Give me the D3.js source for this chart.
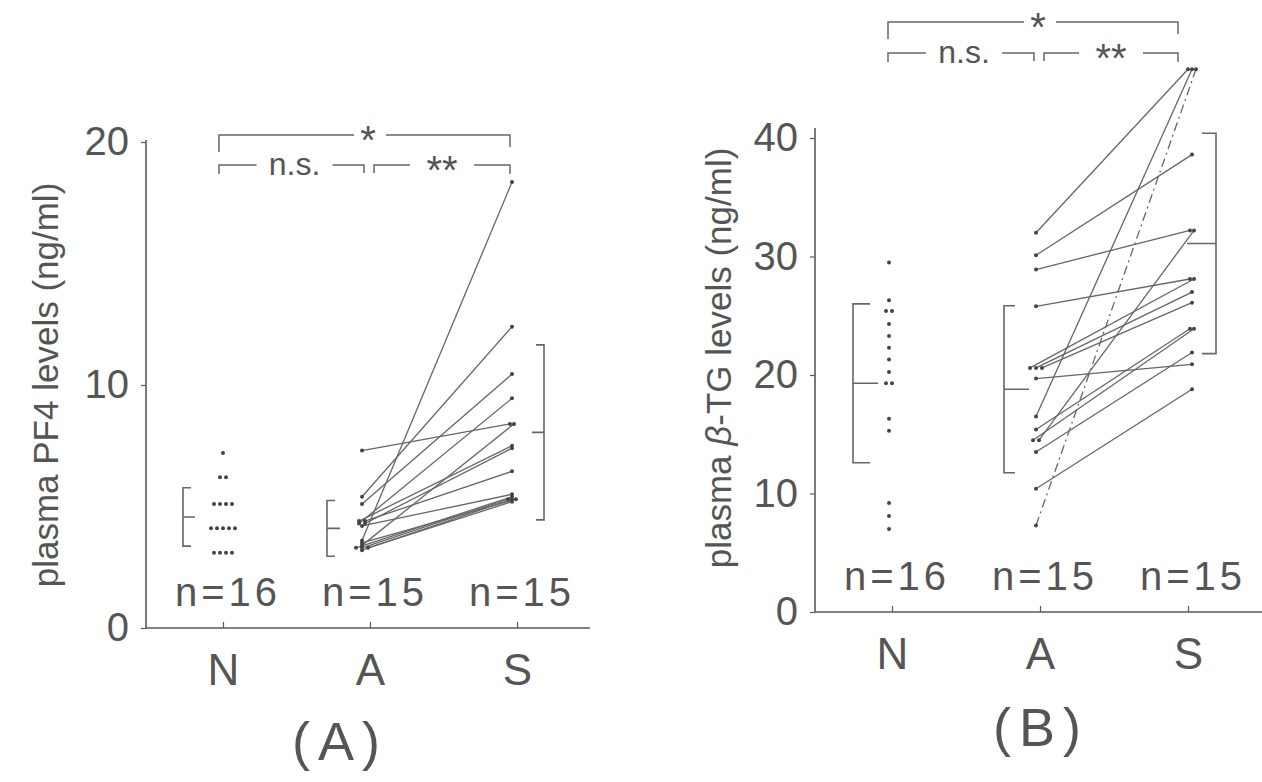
<!DOCTYPE html>
<html><head><meta charset="utf-8">
<script src="https://cdn.jsdelivr.net/npm/d3@7"></script>
<style>
html,body{margin:0;padding:0;background:#fff;}
svg{display:block;}
text{font-family:"Liberation Sans",Arial,sans-serif;fill:#555;}
</style></head>
<body>
<svg id="chart" width="1262" height="782"></svg>
<script>
// ---------- DATA ----------
const categories = ["N", "A", "S"];
const nLabels = ["n=16", "n=15", "n=15"];
const panelLabels = ["(A)", "(B)"];

// Panel A: plasma PF4 (ng/ml)
const pf4Ticks = [0, 10, 20];
const pf4N = [7.2, 6.2, 6.2, 5.1, 5.1, 5.1, 5.1, 4.1, 4.1, 4.1, 4.1, 4.1, 3.1, 3.1, 3.1, 3.1];
const pf4A = [3.6, 5.4, 5.1, 4.3, 7.3, 3.4, 4.4, 4.3, 4.4, 4.2, 3.3, 3.3, 3.2, 3.3, 3.5];
const pf4S = [18.35, 12.4, 10.45, 9.45, 8.4, 8.4, 7.5, 7.4, 6.45, 5.5, 5.4, 5.3, 5.3, 5.2, 5.3];
const pf4Mean = [4.57, 4.1, 8.05];
const pf4SD = [1.2, 1.15, 3.6];

// Panel B: plasma beta-TG (ng/ml)
const btgTicks = [0, 10, 20, 30, 40];
const btgN = [29.5, 26.3, 25.4, 25.4, 24.3, 23.3, 22.3, 21.3, 20.25, 19.3, 19.3, 16.3, 15.3, 9.2, 8.1, 7.0];
const btgA = [32.0, 30.1, 28.9, 25.8, 20.6, 20.6, 20.6, 19.7, 16.5, 15.4, 14.5, 13.5, 10.4, 7.3, 14.5];
const btgS = [45.8, 38.6, 32.2, 28.1, 28.1, 27.0, 26.1, 20.9, 45.8, 23.9, 23.9, 21.9, 18.8, 45.8, 32.2];
const btgMean = [19.3, 18.8, 31.1];
const btgSD = [6.7, 7.05, 9.3];

// significance labels: [overall N-S, N-A, A-S]
const sigLabels = ["*", "n.s.", "**"];

// ---------- DRAW ----------
const svg = d3.select("#chart");
const ink = "#5a5a5a";

function groupOffsets(vals, step) {
  const cnt = {}, idx = {};
  vals.forEach(v => cnt[v] = (cnt[v] || 0) + 1);
  return vals.map(v => { idx[v] = (idx[v] || 0); const o = (idx[v] - (cnt[v] - 1) / 2) * step; idx[v]++; return o; });
}

function drawPanel(c) {
  const g = svg.append("g");
  const x = d3.scalePoint().domain(categories).range(c.xRange);
  const y = d3.scaleLinear().domain([0, c.yMax]).range(c.yRange);

  // y axis
  const ya = g.append("g").attr("transform", `translate(${c.axisX},0)`)
    .call(d3.axisLeft(y).tickValues(c.ticks).tickSize(5).tickPadding(12).tickSizeOuter(0));
  ya.select(".domain").remove();
  ya.selectAll(".tick line").attr("stroke", ink).attr("stroke-width", 1.2);
  ya.selectAll(".tick text").attr("font-size", 40).attr("fill", "#555").attr("font-family", "Liberation Sans, Arial, sans-serif");
  g.append("line").attr("x1", c.axisX).attr("x2", c.axisX).attr("y1", c.axisTop).attr("y2", y(0))
    .attr("stroke", ink).attr("stroke-width", 1.6);

  // x axis
  const xa = g.append("g").attr("transform", `translate(0,${y(0)})`)
    .call(d3.axisBottom(x).tickSize(-6).tickPadding(26).tickSizeOuter(0));
  xa.select(".domain").remove();
  xa.selectAll(".tick line").attr("stroke", ink).attr("stroke-width", 1.2);
  xa.selectAll(".tick text").attr("font-size", 44).attr("fill", "#555").attr("dy", "0.71em")
    .attr("font-family", "Liberation Sans, Arial, sans-serif");
  g.append("line").attr("x1", c.axisX).attr("x2", c.xAxisEnd).attr("y1", y(0)).attr("y2", y(0))
    .attr("stroke", ink).attr("stroke-width", 1.6);

  // y title
  const yt = g.append("text").attr("transform", `translate(${c.titleX},${c.titleY}) rotate(-90)`)
    .attr("text-anchor", "middle").attr("font-size", 35).attr("fill", "#555");
  c.title.forEach(t => yt.append("tspan").text(t.s).attr("font-style", t.it ? "italic" : null));

  // n labels
  g.selectAll(".nl").data(nLabels).join("text").attr("class", "nl")
    .attr("x", (d, i) => x(categories[i]) + 5).attr("y", c.nY).attr("text-anchor", "middle")
    .attr("font-size", 40).attr("letter-spacing", 4).text(d => d);

  // paired lines A -> S
  const offA = groupOffsets(c.A, 6), offS = groupOffsets(c.S, 4);
  g.selectAll(".pl").data(c.A).join("line").attr("class", "pl")
    .attr("x1", (d, i) => x("A") + c.aShift + offA[i]).attr("y1", d => y(d))
    .attr("x2", (d, i) => x("S") + c.sShift + offS[i]).attr("y2", (d, i) => y(c.S[i]))
    .attr("stroke", "#666").attr("stroke-width", 1.3)
    .attr("stroke-dasharray", (d, i) => c.dashed.includes(i) ? "9,4,2,4" : null);
  g.selectAll(".pa").data(c.A).join("circle").attr("class", "pa")
    .attr("cx", (d, i) => x("A") + c.aShift + offA[i]).attr("cy", d => y(d)).attr("r", 2).attr("fill", "#444");
  g.selectAll(".ps").data(c.S).join("circle").attr("class", "ps")
    .attr("cx", (d, i) => x("S") + c.sShift + offS[i]).attr("cy", d => y(d)).attr("r", 2).attr("fill", "#444");

  // N dots
  const offN = groupOffsets(c.N, 6);
  g.selectAll(".pn").data(c.N).join("circle").attr("class", "pn")
    .attr("cx", (d, i) => x("N") + c.nShift + offN[i]).attr("cy", d => y(d)).attr("r", 2).attr("fill", "#444");

  // mean +/- SD brackets
  c.mean.forEach((m, i) => {
    const bx = x(categories[i]) + c.brX[i];
    const dir = c.brDir[i];
    const top = y(m + c.sd[i]), bot = y(m - c.sd[i]), mid = y(m);
    g.append("path")
      .attr("d", `M${bx + dir * c.brTick[i]},${top}H${bx}V${bot}H${bx + dir * c.brTick[i]}M${bx},${mid}H${bx + dir * c.brMid[i]}`)
      .attr("fill", "none").attr("stroke", "#666").attr("stroke-width", 1.6);
  });

  // significance brackets
  const s = c.sig;
  const xN = x("N") + s.l, xA = x("A"), xS = x("S") + s.r;
  const upper = g.append("g");
  upper.append("path").attr("d", `M${xN},${s.y1 + 17}V${s.y1}H${xA - 16}M${xA + 16},${s.y1}H${xS}V${s.y1 + 12}`)
    .attr("fill", "none").attr("stroke", "#666").attr("stroke-width", 1.5);
  upper.append("text").attr("x", xA - 2).attr("y", s.y1 + 19).attr("text-anchor", "middle")
    .attr("font-size", 40).attr("font-family", "DejaVu Sans, sans-serif").text(sigLabels[0]);
  const nsX = (xN + xA) / 2, ssX = (xA + xS) / 2 + 2;
  g.append("path").attr("d",
    `M${xN},${s.y2 + 9}V${s.y2}H${nsX - 38}M${nsX + 38},${s.y2}H${xA - 6}V${s.y2 + 8}` +
    `M${xA + 4},${s.y2 + 8}V${s.y2}H${ssX - 32}M${ssX + 32},${s.y2}H${xS}V${s.y2 + 9}`)
    .attr("fill", "none").attr("stroke", "#666").attr("stroke-width", 1.5);
  g.append("text").attr("x", nsX).attr("y", s.y2 + 10).attr("text-anchor", "middle")
    .attr("font-size", 32).text(sigLabels[1]);
  g.append("text").attr("x", ssX).attr("y", s.y2 + 19).attr("text-anchor", "middle")
    .attr("font-size", 40).attr("font-family", "DejaVu Sans, sans-serif").text(sigLabels[2]);

  // panel label
  g.append("text").attr("x", c.plX).attr("y", c.plY).attr("text-anchor", "middle")
    .attr("font-size", 54).attr("letter-spacing", 8).text(c.panel);
}

drawPanel({
  xRange: [223, 517], yRange: [628, 142], yMax: 20, ticks: pf4Ticks,
  axisX: 146, axisTop: 140, xAxisEnd: 590,
  title: [{s: "plasma PF4 levels (ng/ml)"}], titleX: 58, titleY: 385,
  nY: 606, N: pf4N, A: pf4A, S: pf4S, nShift: 0, aShift: -8, sShift: -5, dashed: [],
  mean: pf4Mean, sd: pf4SD, brX: [-40, -43, 27], brDir: [1, 1, -1], brTick: [8, 8, 8], brMid: [12, 13, 12],
  sig: {l: -4, r: -7, y1: 135, y2: 165},
  panel: panelLabels[0], plX: 340, plY: 760
});

drawPanel({
  xRange: [892, 1188], yRange: [612, 138], yMax: 40, ticks: btgTicks,
  axisX: 815, axisTop: 128, xAxisEnd: 1262,
  title: [{s: "plasma "}, {s: "β", it: true}, {s: "-TG levels (ng/ml)"}], titleX: 731, titleY: 358,
  nY: 590, N: btgN, A: btgA, S: btgS, nShift: -3, aShift: -4, sShift: 4, dashed: [13],
  mean: btgMean, sd: btgSD, brX: [-39, -36, 28], brDir: [1, 1, -1], brTick: [17, 11, 14], brMid: [25, 25, 29],
  sig: {l: -4, r: -10, y1: 22, y2: 53},
  panel: panelLabels[1], plX: 1041, plY: 746
});
</script>
</body></html>
